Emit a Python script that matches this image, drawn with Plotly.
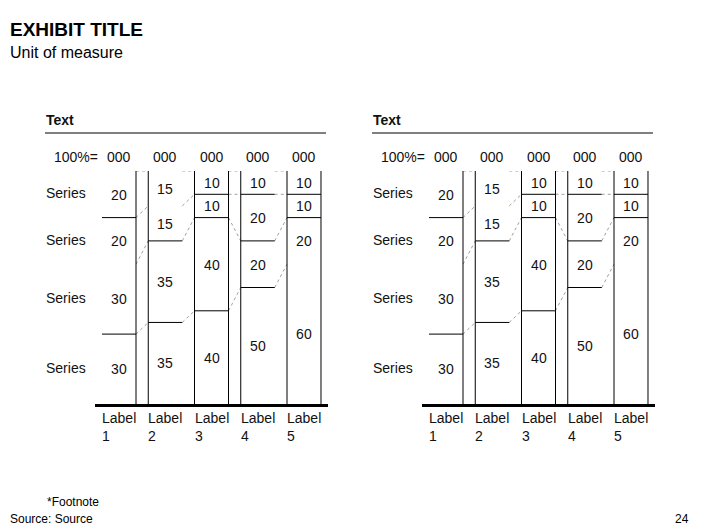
import plotly.graph_objects as go

# ---------------- data ----------------
categories = ["Label<br>1", "Label<br>2", "Label<br>3", "Label<br>4", "Label<br>5"]
totals = ["000", "000", "000", "000", "000"]
series_names = ["Series", "Series", "Series", "Series"]          # top -> bottom
series_top = [20, 15, 10, 10, 10]
series_2 = [20, 15, 10, 20, 10]
series_3 = [30, 35, 40, 20, 20]
series_bottom = [30, 35, 40, 50, 60]
panel_titles = ["Text", "Text"]

# ---------------- style ----------------
FONT = "Liberation Sans, Arial, sans-serif"
OFF = 8                      # page body margin of the html page
W, H = 706 - OFF, 529 - OFF
BAR_W = 0.735
# outline pieces that are visible in the reference (per bar)
vis_edges = [["r"], ["l"], ["l", "r"], ["l"], ["l", "r"]]
vis_bounds = [[1, 3], [2, 3], [1, 2, 3], [1, 2, 3], [1, 2]]

stack_top_down = [series_top, series_2, series_3, series_bottom]

fig = go.Figure()

panel_px = [(95, 328), (422, 655)]
y_top_px, y_bot_px = 171, 404

def px_x(p):
    return (p - OFF) / W

def px_y(p):
    return 1 - (p - OFF) / H

n = len(categories)
xs = list(range(n))

for pi, (x0, x1) in enumerate(panel_px):
    xa = "x" if pi == 0 else "x2"
    ya = "y" if pi == 0 else "y2"
    # stacked bars, bottom first
    for vals in reversed(stack_top_down):
        fig.add_trace(go.Bar(
            x=xs, y=vals, width=BAR_W, xaxis=xa, yaxis=ya,
            marker=dict(color="white", line=dict(width=0)),
            text=[str(v) for v in vals], textposition="inside",
            insidetextanchor="middle", textangle=0,
            insidetextfont=dict(family=FONT, size=14, color="#111"),
            showlegend=False, hoverinfo="skip"))
    # boundaries (cumulative from top) per bar
    levels = []
    for i in range(n):
        lv = [100]
        acc = 100
        for s in stack_top_down:
            acc -= s[i]
            lv.append(acc)
        levels.append(lv)
    # dotted connectors
    cx, cy = [], []
    for i in range(n - 1):
        for k in range(4):
            cx += [i + BAR_W / 2, i + 1 - BAR_W / 2, None]
            cy += [levels[i][k], levels[i + 1][k], None]
    fig.add_trace(go.Scatter(x=cx, y=cy, mode="lines", xaxis=xa, yaxis=ya,
                             line=dict(color="#a0a0a0", width=1, dash="dot"),
                             showlegend=False, hoverinfo="skip"))
    # solid outline pieces
    lx, ly = [], []
    for i in range(n):
        for e in vis_edges[i]:
            xe = i - BAR_W / 2 if e == "l" else i + BAR_W / 2
            lx += [xe, xe, None]
            ly += [0, 100, None]
        for k in vis_bounds[i]:
            lx += [i - BAR_W / 2, i + BAR_W / 2, None]
            ly += [levels[i][k], levels[i][k], None]
    fig.add_trace(go.Scatter(x=lx, y=ly, mode="lines", xaxis=xa, yaxis=ya,
                             line=dict(color="black", width=1),
                             showlegend=False, hoverinfo="skip"))

    # annotations: totals above bars, category labels below
    for i in range(n):
        fig.add_annotation(x=i, y=100, xref=xa, yref=ya, text=totals[i],
                           showarrow=False, xanchor="center", yanchor="middle",
                           yshift=14,
                           font=dict(family=FONT, size=14, color="#111"))
        fig.add_annotation(x=i - BAR_W / 2, y=0, xref=xa, yref=ya,
                           text=categories[i], showarrow=False, xanchor="left",
                           yanchor="top", yshift=-4, xshift=-2, align="left",
                           font=dict(family=FONT, size=14, color="#111"))
    fig.add_annotation(x=0 - BAR_W / 2, y=100, xref=xa, yref=ya, text="100%=",
                       showarrow=False, xanchor="right", yanchor="middle",
                       yshift=14, xshift=-2,
                       font=dict(family=FONT, size=14, color="#111"))
    # series labels aligned with bar-1 segments
    off = pi * 327
    for k, name in enumerate(series_names):
        mid = (levels[0][k] + levels[0][k + 1]) / 2
        fig.add_annotation(x=px_x(44 + off), y=mid, xref="paper", yref=ya, text=name,
                           showarrow=False, xanchor="left", yanchor="middle",
                           yshift=1,
                           font=dict(family=FONT, size=14, color="#111"))
    # panel header and rule
    fig.add_annotation(x=px_x(44 + off), y=px_y(120), xref="paper", yref="paper",
                       text="<b>" + panel_titles[pi] + "</b>", showarrow=False,
                       xanchor="left", yanchor="middle",
                       font=dict(family=FONT, size=14, color="#111"))
    fig.add_shape(type="line", xref="paper", yref="paper",
                  x0=px_x(45 + off), x1=px_x(326 + off), y0=px_y(133), y1=px_y(133),
                  line=dict(color="black", width=1))

axis_common = dict(showgrid=False, zeroline=False, ticks="", showticklabels=False)
fig.update_layout(
    width=W, height=H, margin=dict(l=0, r=0, t=0, b=0),
    paper_bgcolor="white", plot_bgcolor="rgba(0,0,0,0)",
    barmode="stack", bargap=0, showlegend=False,
    xaxis=dict(domain=[px_x(95), px_x(328)], range=[-0.519, 4.519],
               showline=True, linewidth=3, linecolor="black", anchor="y", **axis_common),
    xaxis2=dict(domain=[px_x(422), px_x(655)], range=[-0.519, 4.519],
                showline=True, linewidth=3, linecolor="black", anchor="y2", **axis_common),
    yaxis=dict(domain=[px_y(y_bot_px), px_y(y_top_px)], range=[0, 100], anchor="x",
               visible=False),
    yaxis2=dict(domain=[px_y(y_bot_px), px_y(y_top_px)], range=[0, 100], anchor="x2",
                visible=False),
    uniformtext=dict(mode="show", minsize=14),
)

# titles and footer
fig.add_annotation(x=px_x(8), y=px_y(29), xref="paper", yref="paper",
                   text="<b>EXHIBIT TITLE</b>", showarrow=False, xanchor="left",
                   yanchor="middle", font=dict(family=FONT, size=19, color="black"))
fig.add_annotation(x=px_x(8), y=px_y(52), xref="paper", yref="paper",
                   text="Unit of measure", showarrow=False, xanchor="left",
                   yanchor="middle", font=dict(family=FONT, size=16, color="black"))
fig.add_annotation(x=px_x(45), y=px_y(502), xref="paper", yref="paper",
                   text="*Footnote", showarrow=False, xanchor="left",
                   yanchor="middle", font=dict(family=FONT, size=12, color="black"))
fig.add_annotation(x=px_x(8), y=px_y(519), xref="paper", yref="paper",
                   text="Source: Source", showarrow=False, xanchor="left",
                   yanchor="middle", font=dict(family=FONT, size=12, color="black"))
fig.add_annotation(x=px_x(691), y=px_y(519), xref="paper", yref="paper",
                   text="24", showarrow=False, xanchor="right",
                   yanchor="middle", font=dict(family=FONT, size=12, color="black"))

fig.write_html("out.html")
